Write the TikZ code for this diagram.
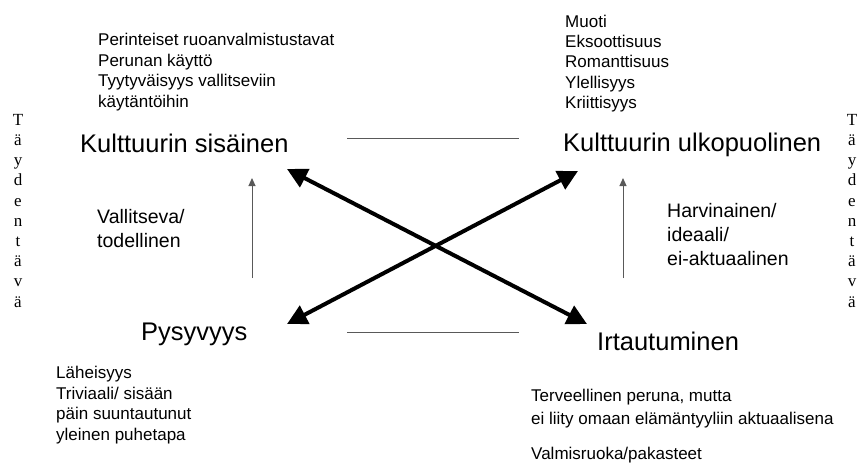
\documentclass[tikz,border=0pt]{standalone}
\usepackage{fontspec}
\setmainfont{Liberation Sans}
\newfontfamily\timesfont{Liberation Serif}
\usetikzlibrary{arrows.meta}
\begin{document}
\begin{tikzpicture}[x=1pt,y=-1pt,
    iso/.style={font=\fontsize{25.5}{30}\selectfont,inner sep=0pt,anchor=base west},
    lista/.style={font=\fontsize{17}{20.4}\selectfont,align=left,inner sep=0pt,anchor=base west},
    keski/.style={font=\fontsize{19.5}{24}\selectfont,align=left,inner sep=0pt,anchor=base west},
    pysty/.style={font=\timesfont\fontsize{17}{20.2}\selectfont,align=center,inner sep=0pt,anchor=base},
    ohut/.style={draw=black!65,line width=1pt},
    paksu/.style={line width=4pt,{Triangle[length=20pt,width=20pt]}-{Triangle[length=20pt,width=20pt]}},
  ]
  \useasboundingbox (0,0) rectangle (861,464);
  % nelikentta (monirivisten solmujen base = viimeisen rivin perusviiva)
  \node[iso] (sis) at (80,152) {Kulttuurin sisäinen};
  \node[iso] (ulko) at (563,151) {Kulttuurin ulkopuolinen};
  \node[iso] (pys) at (141,340) {Pysyvyys};
  \node[iso] (irt) at (597,350) {Irtautuminen};

  \node[lista] (sisLista) at (98,107) {Perinteiset ruoanvalmistustavat\\Perunan käyttö\\Tyytyväisyys vallitseviin\\käytäntöihin};
  \node[lista] (ulkoLista) at (565,108.6) {Muoti\\Eksoottisuus\\Romanttisuus\\Ylellisyys\\Kriittisyys};
  \node[lista] (pysLista) at (56,440) {Läheisyys\\Triviaali/ sisään\\päin suuntautunut\\yleinen puhetapa};
  \node[lista] (irtLista) at (531,424) {Terveellinen peruna, mutta\\[2.6pt]ei liity omaan elämäntyyliin aktuaalisena};
  \node[lista] (irtValmis) at (531,459) {Valmisruoka/pakasteet};

  \node[keski] (valli) at (97,247) {Vallitseva/\\todellinen};
  \node[keski] (harv) at (667,265) {Harvinainen/\\ideaali/\\ei-aktuaalinen};

  \node[pysty] (vasen) at (18,307) {T\\ä\\y\\d\\e\\n\\t\\ä\\v\\ä};
  \node[pysty] (oikea) at (852,307) {T\\ä\\y\\d\\e\\n\\t\\ä\\v\\ä};

  % nuolten paat
  \coordinate (a1) at (287,169);
  \coordinate (a2) at (587,324);
  \coordinate (b1) at (287,324);
  \coordinate (b2) at (578,171);
  \coordinate (v1) at (252,278);
  \coordinate (v2) at (252,178);
  \coordinate (o1) at (623,278);
  \coordinate (o2) at (623,178);
  \coordinate (h1) at (347,138);
  \coordinate (h2) at (519,138);
  \coordinate (h3) at (347,332);
  \coordinate (h4) at (519,332);

  \draw[ohut] (h1) -- (h2);
  \draw[ohut] (h3) -- (h4);
  \draw[ohut,-{Triangle[length=8pt,width=7pt]}] (v1) -- (v2);
  \draw[ohut,-{Triangle[length=8pt,width=7pt]}] (o1) -- (o2);
  \draw[paksu] (a1) -- (a2);
  \draw[paksu] (b1) -- (b2);
\end{tikzpicture}
\end{document}
